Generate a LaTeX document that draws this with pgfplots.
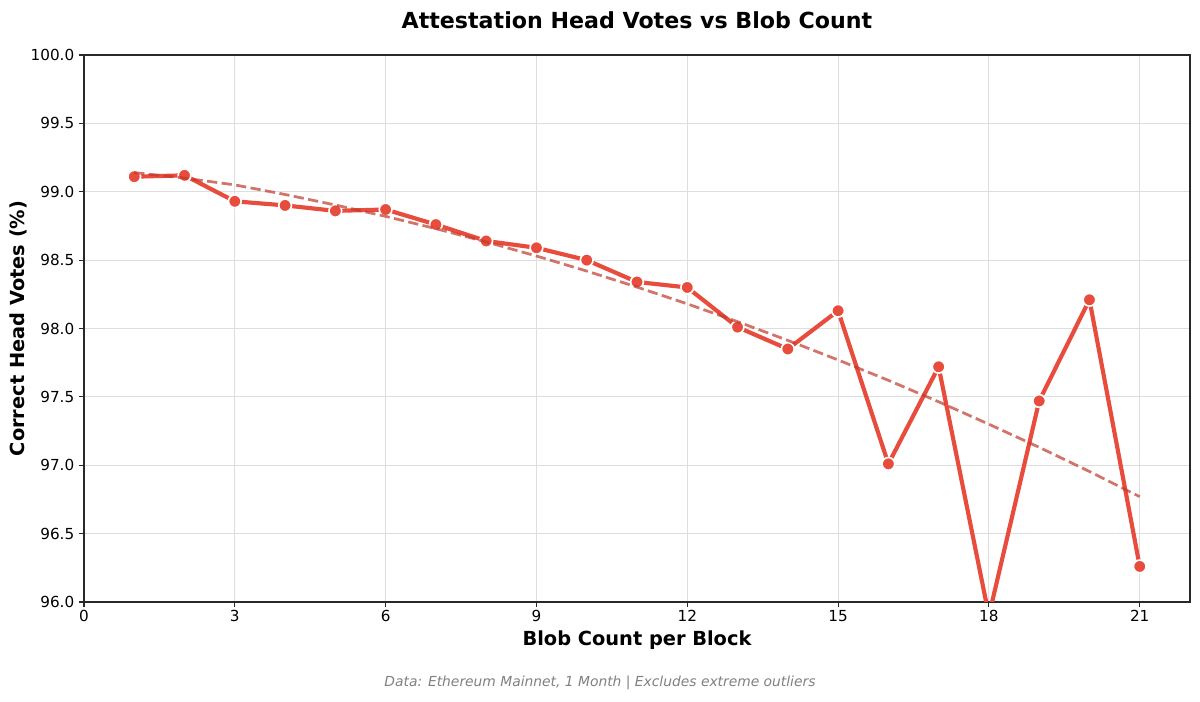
\documentclass[border=0pt]{standalone}
\usepackage{fontspec}
\setmainfont{DejaVu Sans}
\usepackage{pgfplots}
\pgfplotsset{compat=1.18}
\definecolor{mainred}{RGB}{231,76,60}
\definecolor{trendred}{RGB}{192,57,43}
\definecolor{spine}{RGB}{40,40,40}
\definecolor{gridc}{RGB}{222,222,222}
\definecolor{footc}{RGB}{128,128,128}
\begin{document}
\begin{tikzpicture}
\begin{axis}[
  name=ax,
  at={(0,0)}, anchor=south west,
  scale only axis,
  width=799.3pt, height=395.3pt,
  xmin=0, xmax=22, ymin=96, ymax=100,
  xtick={0,3,6,9,12,15,18,21},
  ytick={96,96.5,97,97.5,98,98.5,99,99.5,100},
  yticklabel style={/pgf/number format/.cd,fixed,fixed zerofill,precision=1},
  /pgf/number format/assume math mode=true,
  ticklabel style={font=\fontsize{11}{13}\selectfont},
  tick align=outside, tick pos=left,
  major tick length=3.5pt,
  tick style={spine, line width=0.8pt},
  axis line style={spine, line width=1pt},
  grid=major,
  major grid style={gridc, line width=0.8pt},
  clip marker paths=true,
  xticklabel style={yshift=1pt},
]
\addplot[mainred, line width=3pt, line join=round, mark=*, mark size=4.6pt,
  mark options={fill=mainred, draw=white, line width=1.2pt, solid}] coordinates {
(1,99.11) (2,99.12) (3,98.93) (4,98.90) (5,98.86) (6,98.87) (7,98.76)
(8,98.64) (9,98.59) (10,98.50) (11,98.34) (12,98.30) (13,98.01) (14,97.85)
(15,98.13) (16,97.01) (17,97.72) (18,95.90) (19,97.47) (20,98.21) (21,96.26)
};
\addplot[trendred, opacity=0.7, line width=2pt, dash pattern=on 7.4pt off 3.2pt] coordinates {
(1,99.140) (2,99.100) (3,99.050) (4,98.980) (5,98.903) (6,98.820) (7,98.730)
(8,98.633) (9,98.530) (10,98.420) (11,98.303) (12,98.180) (13,98.050) (14,97.913)
(15,97.770) (16,97.621) (17,97.464) (18,97.300) (19,97.131) (20,96.954) (21,96.770)
};
\end{axis}
\node[font=\fontsize{16}{19}\selectfont\bfseries] at ([yshift=25.3pt]ax.north) {Attestation Head Votes vs Blob Count};
\node[font=\fontsize{14}{17}\selectfont\bfseries] at ([yshift=-27.5pt]ax.south) {Blob Count per Block};
\node[font=\fontsize{14}{17}\selectfont\bfseries, rotate=90] at ([xshift=-47.7pt]ax.west) {Correct Head Votes (\%)};
\node[font=\fontsize{10}{12}\selectfont\itshape, text=footc] at ([xshift=372.9pt,yshift=-58.5pt]ax.south west) {Data: Ethereum Mainnet, 1 Month | Excludes extreme outliers};
\path ([shift={(-60.7pt,-72.27pt)}]ax.south west) rectangle ([shift={(7.23pt,39.75pt)}]ax.north east);
\end{tikzpicture}
\end{document}
